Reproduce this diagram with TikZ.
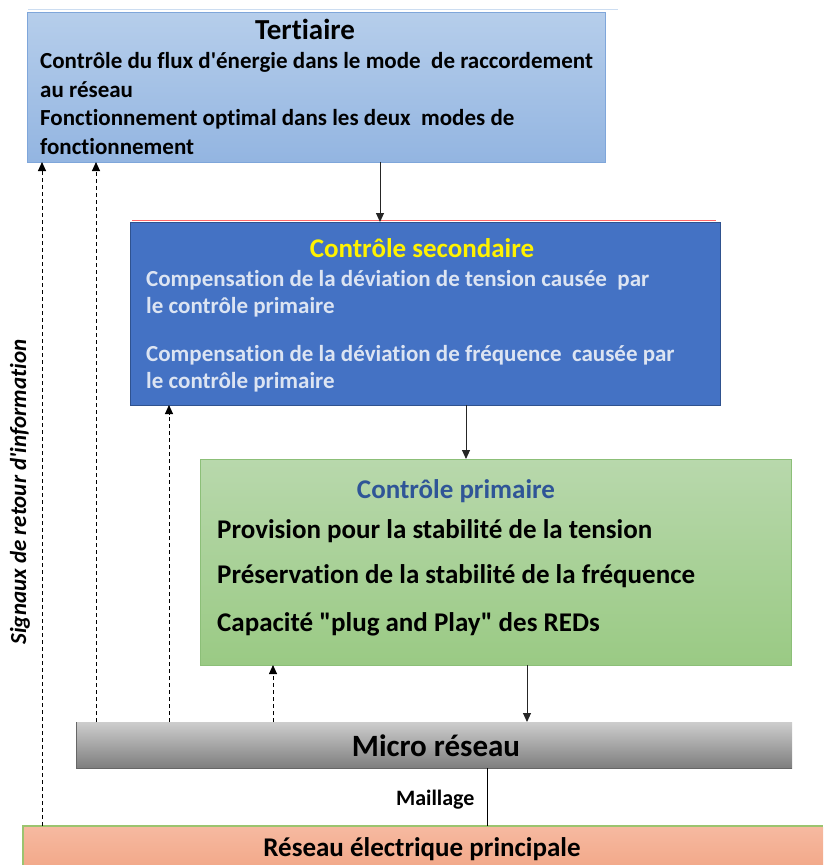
\documentclass[tikz,border=0pt]{standalone}
\usepackage{fontspec}
\setmainfont{Carlito}[Ligatures={TeXOff,NoCommon}]
\usetikzlibrary{arrows.meta}
\definecolor{tertA}{HTML}{B6CEEB}
\definecolor{tertB}{HTML}{93B5E1}
\definecolor{tertD}{HTML}{7FA6DA}
\definecolor{secF}{HTML}{4472C4}
\definecolor{secD}{HTML}{2F528F}
\definecolor{secT}{HTML}{DCE4F2}
\definecolor{primA}{HTML}{B8D8AC}
\definecolor{primB}{HTML}{9ACA84}
\definecolor{primD}{HTML}{8CBF78}
\definecolor{primT}{HTML}{2F5597}
\definecolor{grA}{HTML}{CDCDCD}
\definecolor{grB}{HTML}{7E7E7E}
\definecolor{redA}{HTML}{F6B9A0}
\definecolor{redB}{HTML}{F2A98A}
\definecolor{redD}{HTML}{9BC46F}
\tikzset{
  fs/.style={font=\fontsize{#1}{#1}\selectfont\bfseries},
  solidarr/.style={-{Triangle[length=9pt,width=8pt]},line width=0.9pt,black!85},
  dasharr/.style={-{Triangle[length=9pt,width=8pt]},line width=0.9pt,black,dash pattern=on 4pt off 3pt},
  txt/.style={anchor=west,inner sep=0pt},
}
\begin{document}
\begin{tikzpicture}[x=1pt,y=-1pt]
\useasboundingbox (0,0) rectangle (823,865);
% tertiary
\draw[tertA!70,line width=1pt] (28,9) -- (618,9);
\shade[top color=tertA,bottom color=tertB] (27,12) rectangle (605,162);
\draw[tertD,line width=0.8pt] (27,12) rectangle (605,162);
\coordinate (tertS) at (380,162);
\node[fs=29] (tt) at (305,29) {Tertiaire};
\node[fs=23,txt] (t1) at (40,62) {Contrôle du flux d'énergie dans le mode\ \ de raccordement};
\node[fs=23,txt] (t2) at (40,90) {au réseau};
\node[fs=23,txt] (t3) at (40,119) {Fonctionnement optimal dans les deux\ \ modes de};
\node[fs=23,txt] (t4) at (40,147) {fonctionnement};
% secondary
\draw[red!60,line width=1pt] (132,220) -- (716,220);
\fill[secF] (130,222) rectangle (720,405);
\draw[secD,line width=1pt] (130,222) rectangle (720,405);
\coordinate (secN) at (380,222);
\coordinate (secS) at (466,405);
\node[fs=27,text=yellow] (st) at (422,248) {Contrôle secondaire};
\node[fs=23,txt,text=secT] (s1) at (146,280) {Compensation de la déviation de tension causée\ \ par};
\node[fs=23,txt,text=secT] (s2) at (146,307) {le contrôle primaire};
\node[fs=23,txt,text=secT] (s3) at (146,355) {Compensation de la déviation de fréquence\ \ causée par};
\node[fs=23,txt,text=secT] (s4) at (146,382) {le contrôle primaire};
% primary
\shade[top color=primA,bottom color=primB] (200,459) rectangle (791,665);
\draw[primD,line width=0.8pt] (200,459) rectangle (791,665);
\coordinate (priN) at (466,459);
\coordinate (priS) at (527,665);
\node[fs=27,text=primT] (pt) at (456,491) {Contrôle primaire};
\node[fs=27,txt] (p1) at (217,531) {Provision pour la stabilité de la tension};
\node[fs=27,txt] (p2) at (217,576) {Préservation de la stabilité de la fréquence};
\node[fs=27,txt] (p3) at (217,624) {Capacité "plug and Play" des REDs};
% micro
\shade[top color=grA,bottom color=grB] (76,722) rectangle (792,768);
\draw[black!60,line width=0.6pt] (76,722) -- (76,768) -- (792,768);
\node[fs=31] (mr) at (436,746) {Micro réseau};
\coordinate (mrN) at (527,722);
\coordinate (mrS) at (487,768);
% main grid
\shade[top color=redA,bottom color=redB] (23,827) rectangle (823,866);
\draw[redD,line width=1.5pt] (23,866) -- (23,826) -- (823,826);
\node[fs=27] (rp) at (422,849) {Réseau électrique principale};
\coordinate (rpN) at (487,826);
% solid arrows
\draw[solidarr] (tertS) -- (secN -| tertS);
\draw[solidarr] (secS) -- (priN -| secS);
\draw[solidarr] (priS) -- (mrN);
\draw[line width=0.8pt] (mrS) -- (rpN);
\node[fs=22,anchor=east] (ml) at (478,800) {Maillage};
% dashed feedback
\coordinate (d1a) at (42,826); \coordinate (d1b) at (42,162);
\coordinate (d2a) at (96,722); \coordinate (d2b) at (96,162);
\coordinate (d3a) at (169,722); \coordinate (d3b) at (169,405);
\coordinate (d4a) at (273,722); \coordinate (d4b) at (273,665);
\draw[dasharr] (d1a) -- (d1b);
\draw[dasharr] (d2a) -- (d2b);
\draw[dasharr] (d3a) -- (d3b);
\draw[dasharr] (d4a) -- (d4b);
\node[font=\fontsize{23}{23}\selectfont\bfseries\itshape,rotate=90] (sig) at (20,492) {Signaux de retour d'information};
\end{tikzpicture}
\end{document}
